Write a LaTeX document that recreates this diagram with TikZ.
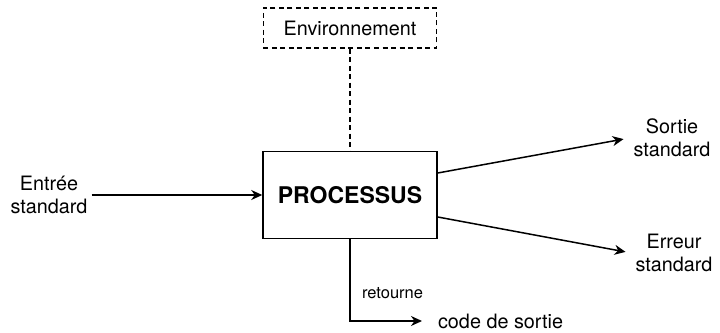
\documentclass[tikz,border=0pt]{standalone}
\usepackage{fontspec}
\setmainfont{TeX Gyre Heros}
\usetikzlibrary{arrows.meta,calc,positioning}
\tikzset{
diagram/.style={>={Stealth[length=11pt,width=10pt,inset=3.5pt]},
    line width=1.5pt,x=1pt,y=1pt},
block/.style={rectangle,draw,minimum width=174pt,minimum height=87pt,
    font=\fontsize{23}{27}\selectfont\bfseries},
envbox/.style={rectangle,draw,dash pattern=on 5pt off 3.5pt,
    minimum width=173pt,minimum height=40pt,font=\fontsize{19.8}{23}\selectfont},
stream/.style={align=center,font=\fontsize{19.8}{23}\selectfont},
flow/.style={->},
outflow/.style={->,shorten >=6pt},
}

\begin{document}
\begin{tikzpicture}[diagram]
    \useasboundingbox (-350,-137) rectangle (370,195);

    \node[block] (proc) {PROCESSUS};
    \node[envbox] (env) [above=102pt of proc] {Environnement};
    \node[stream] (stdin) at (-301,0) {Entrée\\standard};
    \node[stream] (stdout) at (322,57) {Sortie\\standard};
    \node[stream] (stderr) at (324,-58) {Erreur\\standard};
    \node[stream,anchor=west] (code) at (84,-126) {code de sortie};

    \draw[dash pattern=on 5pt off 3.5pt] (env) -- (proc);
    \path[flow]
        (stdin) edge (proc);
    \path[outflow]
        ([yshift=22pt]proc.east) edge (stdout.west)
        ([yshift=-22pt]proc.east) edge (stderr.west);
    \draw[flow,shorten >=12pt] (proc.south) |- node[pos=0.33,right=8pt,
        font=\fontsize{16.5}{20}\selectfont] {retourne} (code.west);
\end{tikzpicture}
\end{document}
